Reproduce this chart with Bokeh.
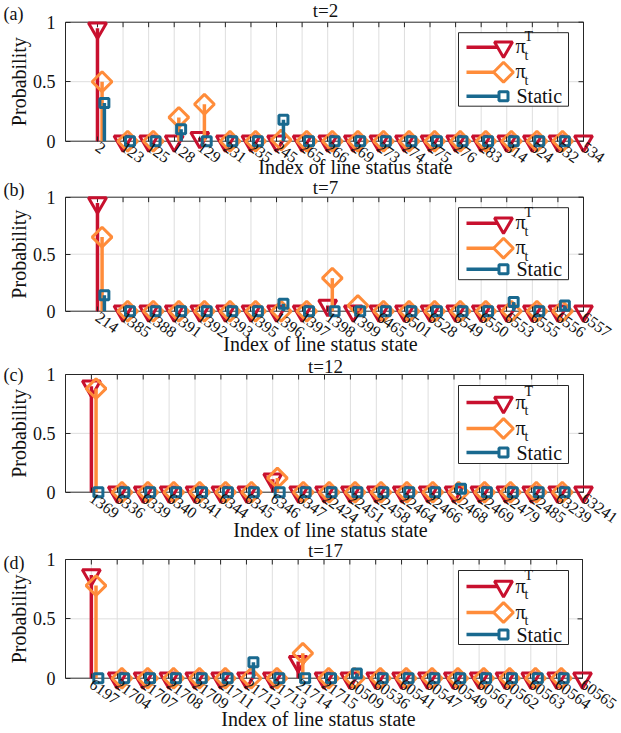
import math
from bokeh.plotting import figure
from bokeh.models import FixedTicker, LinearAxis, Range1d, Label
from bokeh.layouts import column
from bokeh.embed import file_html
from bokeh.resources import INLINE

# ---------------- data ----------------
cats = list(range(1, 21))

labels_a = ["2", "123", "125", "128", "129", "231", "235", "245", "265", "266",
            "269", "273", "274", "275", "276", "283", "314", "524", "532", "534"]
pitT_a   = [0.95, 0, 0, 0, 0.03, 0, 0, 0, 0, 0, 0, 0, 0, 0, 0, 0, 0, 0, 0, 0]
pit_a    = [0.50, 0, 0, 0.20, 0.31, 0, 0, 0.01, 0, 0, 0, 0, 0, 0, 0, 0, 0, 0, 0, 0]
static_a = [0.32, 0, 0, 0.10, 0, 0, 0, 0.18, 0, 0, 0, 0, 0, 0, 0, 0, 0, 0, 0, 0]

labels_b = ["214", "1385", "1388", "1391", "1392", "1393", "1395", "1396", "1397", "1398",
            "1399", "6465", "6501", "6528", "6549", "6550", "6553", "6555", "6556", "6557"]
pitT_b   = [0.95, 0, 0, 0, 0, 0, 0, 0, 0, 0.05, 0, 0, 0, 0, 0, 0, 0, 0, 0, 0]
pit_b    = [0.65, 0, 0, 0, 0, 0, 0, 0, 0, 0.29, 0.05, 0, 0, 0, 0, 0, 0, 0, 0, 0]
static_b = [0.14, 0, 0, 0, 0, 0, 0, 0.065, 0, 0, 0, 0, 0, 0, 0, 0, 0.08, 0, 0.05, 0]

labels_c = ["1369", "6336", "6339", "6340", "6341", "6344", "6345", "6346", "6347", "22424",
            "22451", "22458", "22464", "22466", "22468", "22469", "22479", "22485", "63239", "63241"]
pitT_c   = [0.90, 0, 0, 0, 0, 0, 0, 0.11, 0, 0, 0, 0, 0, 0, 0, 0, 0, 0, 0, 0]
pit_c    = [0.88, 0, 0, 0, 0, 0, 0, 0.12, 0, 0, 0, 0, 0, 0, 0, 0, 0, 0, 0, 0]
static_c = [0, 0, 0, 0, 0, 0, 0, 0, 0, 0, 0, 0, 0, 0, 0.03, 0, 0, 0, 0, 0]

labels_d = ["6197", "21704", "21707", "21708", "21709", "21711", "21712", "21713", "21714", "21715",
            "60509", "60536", "60541", "60547", "60549", "60561", "60562", "60563", "60564", "60565"]
pitT_d   = [0.87, 0, 0, 0, 0, 0, 0, 0, 0.14, 0, 0, 0, 0, 0, 0, 0, 0, 0, 0, 0]
pit_d    = [0.78, 0, 0, 0, 0, 0, 0, 0, 0.21, 0, 0, 0, 0, 0, 0, 0, 0, 0, 0, 0]
static_d = [0, 0, 0, 0, 0, 0, 0.135, 0, 0, 0, 0.04, 0, 0, 0, 0, 0, 0, 0, 0, 0]

titles = ["t=2", "t=7", "t=12", "t=17"]
letters = ["(a)", "(b)", "(c)", "(d)"]
yticks = [0, 0.5, 1]
ytick_labels = ["0", "0.5", "1"]
series_names = ["Static"]

# ---------------- style ----------------
RED = "#C8102E"
ORANGE = "#FF8C3A"
BLUE = "#19698F"
AXC = "#262626"
GRID = "#DEDEDE"
FONT = "Liberation Serif"
OFF_OR = 0.18
OFF_BL = 0.27

# pixel geometry of each panel (screen pixels); text positions are visual centres
geo = [
    dict(fig=(0, 177), ft=21.7, fb=140.7, x0px=65, x1px=583, xlim=(-0.25, 20),
         title_c=10, letter_c=13, xlab=(355, 166), leg=(10.5, 84, 25, 50, 74)),
    dict(fig=(177, 354), ft=196.7, fb=310.7, x0px=65, x1px=583, xlim=(-0.25, 20),
         title_c=187, letter_c=189, xlab=(320, 343), leg=(10.5, 82.5, 26, 51, 72)),
    dict(fig=(354, 540), ft=374, fb=491.7, x0px=65, x1px=583, xlim=(0, 20),
         title_c=366, letter_c=374.5, xlab=(330, 529), leg=(11, 89, 28, 54, 78)),
    dict(fig=(540, 730), ft=559, fb=677.7, x0px=65, x1px=582, xlim=(0, 20),
         title_c=550, letter_c=562, xlab=(318, 718), leg=(11, 85, 27, 53, 75)),
]

data = [
    (labels_a, pitT_a, pit_a, static_a),
    (labels_b, pitT_b, pit_b, static_b),
    (labels_c, pitT_c, pit_c, static_c),
    (labels_d, pitT_d, pit_d, static_d),
]


def make_panel(i):
    g = geo[i]
    labels, red, orange, blue = data[i]
    ft, fb = g["ft"], g["fb"]
    x0px, x1px = g["x0px"], g["x1px"]
    xl0, xl1 = g["xlim"]
    fig_t, fig_b = g["fig"]
    fig_l, fig_r = 0, 621

    def X(px):
        return xl0 + (px - x0px) * (xl1 - xl0) / (x1px - x0px)

    def Y(py):
        return (fb - py) / (fb - ft)

    def lab(xpx, ypx, text, size, align="left", angle=0.0, yval=None):
        p.add_layout(Label(x=X(xpx), y=Y(ypx) if yval is None else yval, text=text,
                           text_font=FONT, text_font_size=size, angle=angle,
                           text_baseline="middle", text_align=align, text_color="#111111"))

    p = figure(width=fig_r - fig_l, height=fig_b - fig_t,
               x_range=Range1d(X(fig_l), X(fig_r)),
               y_range=Range1d(Y(fig_b), Y(fig_t)),
               min_border_left=0, min_border_right=0,
               min_border_top=0, min_border_bottom=0,
               output_backend="svg", toolbar_location=None, title=None,
               x_axis_type=None, y_axis_type=None)
    p.outline_line_color = None
    p.background_fill_color = "white"
    p.border_fill_color = "white"

    # grid
    gx = [c for c in cats if xl0 <= c <= xl1]
    p.segment(x0=gx, y0=[0] * len(gx), x1=gx, y1=[1] * len(gx), line_color=GRID, line_width=1)
    p.segment(x0=[xl0], y0=[0.5], x1=[xl1], y1=[0.5], line_color=GRID, line_width=1)

    # frame
    p.segment(x0=[xl0, xl0, xl0, xl1], y0=[0, 1, 0, 0], x1=[xl1, xl1, xl0, xl1], y1=[0, 1, 1, 1],
              line_color=AXC, line_width=1)
    # inner ticks on top and right
    tk = 5.0 / (fb - ft)
    p.segment(x0=gx, y0=[1] * len(gx), x1=gx, y1=[1 - tk] * len(gx), line_color=AXC, line_width=1)
    tkx = 5.0 * (xl1 - xl0) / (x1px - x0px)
    p.segment(x0=[xl1] * 3, y0=yticks, x1=[xl1 - tkx] * 3, y1=yticks, line_color=AXC, line_width=1)

    # axes
    xa = LinearAxis(fixed_location=0, ticker=FixedTicker(ticks=cats),
                    major_label_overrides={c: l for c, l in zip(cats, labels)},
                    major_label_orientation=-0.62,
                    major_tick_in=5, major_tick_out=0, minor_tick_line_color=None,
                    axis_line_color=None, major_tick_line_color=AXC,
                    major_label_standoff=4,
                    major_label_text_font=FONT, major_label_text_font_size="16px",
                    major_label_text_color="#111111")
    p.add_layout(xa, "below")
    ya = LinearAxis(fixed_location=xl0, ticker=FixedTicker(ticks=yticks),
                    major_label_overrides={t: s for t, s in zip(yticks, ytick_labels)},
                    major_tick_in=5, major_tick_out=0, minor_tick_line_color=None,
                    axis_line_color=None, major_tick_line_color=AXC,
                    major_label_standoff=10,
                    major_label_text_font=FONT, major_label_text_font_size="18px",
                    major_label_text_color="#111111")
    p.add_layout(ya, "left")

    # series (points outside the x limits are clipped, as in the original)
    specs = [(red, 0.0, RED, "inverted_triangle", 18, 0),
             (orange, OFF_OR, ORANGE, "square", 14, math.pi / 4),
             (blue, OFF_BL, BLUE, "square", 9, 0)]
    for vals, off, col, mk, sz, ang in specs:
        xs = [c + off for c in cats if c + off <= xl1 + 1e-9]
        ys = [v for c, v in zip(cats, vals) if c + off <= xl1 + 1e-9]
        p.segment(x0=xs, y0=[0] * len(xs), x1=xs, y1=ys, line_color=col, line_width=3.5)
        p.scatter(x=xs, y=ys, marker=mk, size=sz, angle=ang, line_color=col, line_width=3,
                  fill_color=None)

    # legend
    lt, lb, r1, r2, r3 = g["leg"]
    p.quad(left=[X(458)], right=[X(568)], top=[Y(ft + lt)], bottom=[Y(ft + lb)],
           fill_color="white", line_color=AXC, line_width=1)
    rows = [ft + r1, ft + r2, ft + r3]
    for (vals, off, col, mk, sz, ang), ry in zip(specs, rows):
        p.segment(x0=[X(466)], y0=[Y(ry)], x1=[X(503)], y1=[Y(ry)], line_color=col, line_width=3.5)
        p.scatter(x=[X(503)], y=[Y(ry)], marker=mk, size=sz, angle=ang, line_color=col,
                  line_width=3, fill_color="white")
    lab(515, rows[0] - 1, "π", "20px")
    lab(524, rows[0] - 11, "T", "14px")
    lab(524, rows[0] + 8, "t", "14px")
    lab(515, rows[1] - 1, "π", "20px")
    lab(524, rows[1] + 8, "t", "14px")
    lab(516, rows[2], series_names[0], "20px")

    # texts
    lab(325, g["title_c"], titles[i], "19px", align="center")
    lab(3, g["letter_c"], letters[i], "18px")
    lab(18, None, "Probability", "20px", align="center", angle=math.pi / 2, yval=0.5)
    cx, cy = g["xlab"]
    lab(cx, cy, "Index of line status state", "20px", align="center")
    return p


figs = [make_panel(i) for i in range(4)]
layout = column(*figs, spacing=0)
open("out.html", "w").write(file_html(layout, INLINE))
